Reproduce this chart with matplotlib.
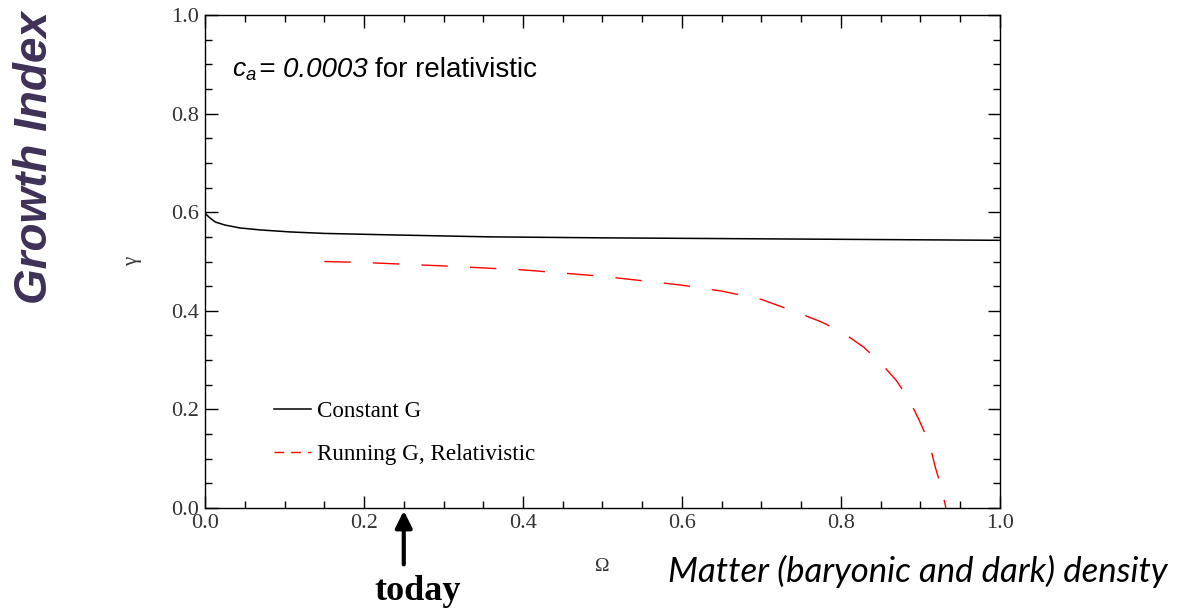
import matplotlib
matplotlib.use("Agg")
import matplotlib.pyplot as plt
from matplotlib.lines import Line2D
from matplotlib.ticker import MultipleLocator

# Constant G curve
omega_const = [0.0, 0.005, 0.013, 0.025, 0.044, 0.07, 0.107, 0.15, 0.233, 0.358, 0.5, 0.6, 0.7, 0.8, 0.9, 1.0]
gamma_const = [0.598, 0.590, 0.580, 0.574, 0.568, 0.564, 0.560, 0.557, 0.554, 0.550, 0.548, 0.547, 0.546, 0.545, 0.544, 0.543]

# Running G, relativistic curve
omega_run = [0.15, 0.2, 0.3, 0.4, 0.5, 0.6, 0.65, 0.7, 0.746, 0.776, 0.803, 0.828,
             0.849, 0.870, 0.886, 0.899, 0.911, 0.919, 0.927, 0.932]
gamma_run = [0.500, 0.498, 0.491, 0.483, 0.470, 0.452, 0.440, 0.423, 0.396, 0.377, 0.355, 0.327,
             0.296, 0.258, 0.219, 0.176, 0.132, 0.081, 0.037, 0.0]

serif = ['Liberation Serif', 'DejaVu Serif']
plt.rcParams['mathtext.fontset'] = 'custom'
plt.rcParams['mathtext.it'] = 'Liberation Sans:italic'
plt.rcParams['mathtext.rm'] = 'Liberation Sans'

fig = plt.figure(figsize=(11.9, 6.1), dpi=100)
ax = fig.add_axes([0.1723, 0.1672, 0.668, 0.8082])

ax.plot(omega_const, gamma_const, color='black', lw=1.1)
ax.plot(omega_run, gamma_run, color='red', lw=1.0, dashes=(19, 16))

ax.set_xlim(0, 1)
ax.set_ylim(0, 1)
ax.xaxis.set_major_locator(MultipleLocator(0.2))
ax.xaxis.set_minor_locator(MultipleLocator(0.05))
ax.yaxis.set_major_locator(MultipleLocator(0.2))
ax.yaxis.set_minor_locator(MultipleLocator(0.05))
ax.tick_params(which='both', direction='in', top=True, right=True, width=1.0)
ax.tick_params(which='major', length=9, labelsize=16, labelcolor='#333333', pad=4)
ax.tick_params(which='minor', length=5)
for lab in ax.get_xticklabels() + ax.get_yticklabels():
    lab.set_family(serif)
for sp in ax.spines.values():
    sp.set_linewidth(1.0)

ax.set_xlabel('Ω', family=serif, fontsize=14, color='#333333', labelpad=18)
ax.set_ylabel('γ', family=serif, fontsize=15, color='#333333', labelpad=21)

# annotation, built from pieces to keep the italic "= 0.0003"
y_note = 1 - 77 / 610
fig.text(232 / 1190, y_note, r'$c_a$', fontsize=19, va='baseline')
fig.text(259 / 1190, y_note, '= 0.0003', fontsize=20, family='Liberation Sans', style='italic',
         va='baseline')
fig.text(375 / 1190, y_note, 'for relativistic', fontsize=20, family='Liberation Sans',
         va='baseline')

handles = [Line2D([], [], color='black', lw=1.1),
           Line2D([], [], color='red', lw=1.0, dashes=(7, 5))]
ax.legend(handles, ['Constant G', 'Running G, Relativistic'], frameon=False, loc='lower left',
          bbox_to_anchor=(0.061, 0.045), prop={'family': 'Liberation Serif', 'size': 16.6},
          handlelength=1.6, handletextpad=0.25, labelspacing=0.95)

# "today" arrow
ax.annotate('', xy=(0.25, 0.0), xycoords='axes fraction', xytext=(0.25, -0.12),
            textcoords='axes fraction',
            arrowprops=dict(arrowstyle='-|>', color='black', lw=3, mutation_scale=25),
            annotation_clip=False)
fig.text(418 / 1190, 1 - 592 / 610, 'today', family=serif, fontweight='bold', fontsize=26,
         ha='center', va='center')

fig.text(35 / 1190, 1 - 158 / 610, 'Growth Index', family='Liberation Sans', fontweight='bold',
         style='italic', fontsize=33, color='#3f3058', rotation=90, ha='center', va='center')
fig.text(1168 / 1190, 1 - 582 / 610, 'Matter (baryonic and dark) density', family='Lato',
         style='italic', fontsize=25, ha='right', va='baseline')

fig.savefig('out.png', dpi=100)
